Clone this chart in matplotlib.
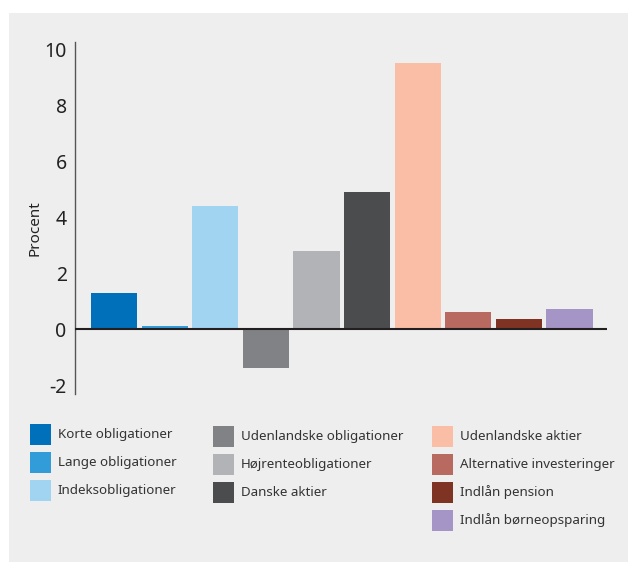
import matplotlib
matplotlib.use("Agg")
import matplotlib.pyplot as plt
from matplotlib.patches import Rectangle
import numpy as np

plt.rcParams['font.family'] = ['Noto Sans', 'DejaVu Sans']
plt.rcParams['axes.unicode_minus'] = False

# afkast pr. aktivklasse, procent
categories = ['Korte obligationer', 'Lange obligationer', 'Indeksobligationer',
              'Udenlandske obligationer', 'Højrenteobligationer', 'Danske aktier',
              'Udenlandske aktier', 'Alternative investeringer', 'Indlån pension',
              'Indlån børneopsparing']
values = [1.3, 0.1, 4.4, -1.4, 2.8, 4.9, 9.5, 0.6, 0.35, 0.7]
colors = ['#0070bb', '#329cd9', '#a1d4f1', '#818285', '#b2b3b6', '#4b4c4e',
          '#fabea7', '#b86a60', '#7f3322', '#a594c6']
yticks = [-2, 0, 2, 4, 6, 8, 10]

W, H = 628, 562
fig = plt.figure(figsize=(W / 100, H / 100), dpi=100, facecolor='white')


def fx(px):
    return px / W


def fy(py):
    # pixel row counted from the top -> figure fraction
    return (H - py) / H


# grey panel behind everything
fig.add_artist(Rectangle((fx(9), 0), 1 - fx(9), fy(13),
                         transform=fig.transFigure, facecolor='#eeeeee',
                         edgecolor='none', zorder=-10))

ax_l, ax_r, ax_t, ax_b = 75.3, 607, 42, 394
ax = fig.add_axes([fx(ax_l), fy(ax_b), fx(ax_r - ax_l), (ax_b - ax_t) / H])
ax.set_facecolor('none')

x = np.arange(len(values))
bars = ax.bar(x, values, width=0.91, color=colors, zorder=2)
ax.axhline(0, color='#231f20', lw=1.5, zorder=3)

ax.set_xlim(-0.767, 9.741)
ax.set_ylim(-2.32, 10.25)
ax.set_yticks(yticks)
ax.set_yticklabels([str(t) for t in yticks])
ax.set_xticks([])
ax.tick_params(axis='y', length=0, pad=6.2, labelsize=14, labelcolor='#222222')

for s in ['top', 'right', 'bottom']:
    ax.spines[s].set_visible(False)
ax.spines['left'].set_color('#555555')
ax.spines['left'].set_linewidth(1.0)

ax.set_ylabel('Procent', fontsize=11, color='#222222')
ax.yaxis.set_label_coords((42 - ax_l) / (ax_r - ax_l), (ax_b - 228) / (ax_b - ax_t))

# legend: three columns holding 3, 3 and 4 entries
columns = [(0, 3, 30, 424), (3, 6, 213, 426), (6, 10, 432, 426)]
box, step = 21, 28
for a, b, lx, ly in columns:
    for k, i in enumerate(range(a, b)):
        top = ly + k * step
        fig.add_artist(Rectangle((fx(lx), fy(top + box)), box / W, box / H,
                                 transform=fig.transFigure,
                                 facecolor=colors[i], edgecolor='none'))
        fig.text(fx(lx + box + 7), fy(top + box / 2), categories[i],
                 ha='left', va='center', fontsize=9.6, color='#333333')

fig.savefig('out.png', dpi=100, facecolor='white')
